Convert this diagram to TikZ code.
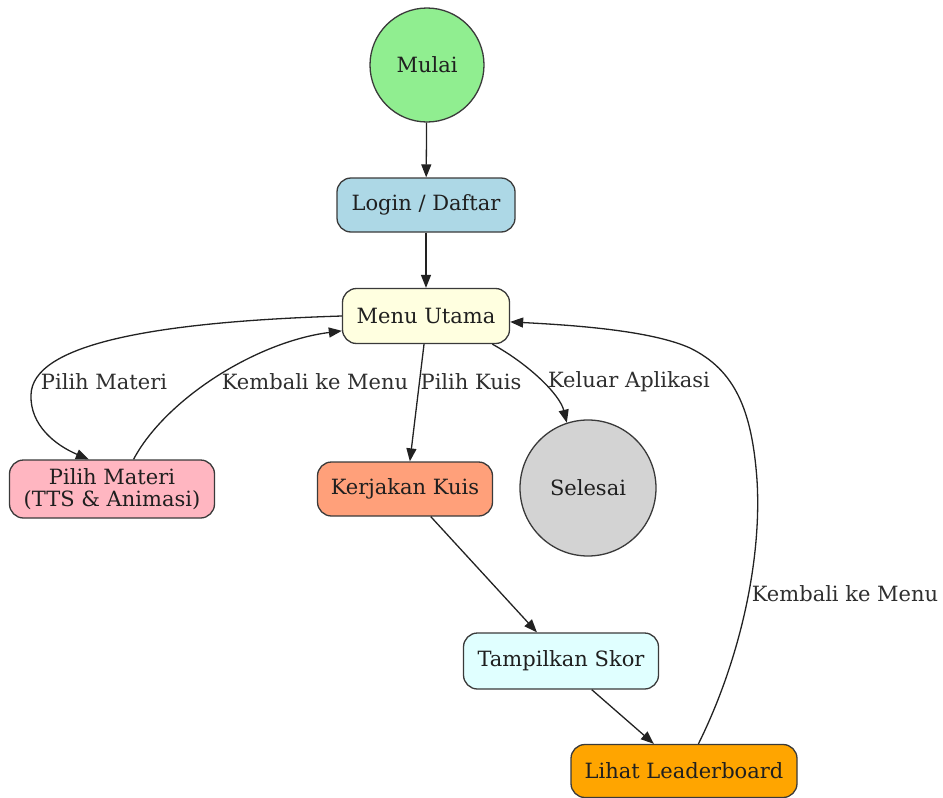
\documentclass[tikz,border=0pt]{standalone}
\usepackage{fontspec}
\setmainfont{DejaVu Serif}
\usetikzlibrary{arrows.meta}
\definecolor{cMulai}{HTML}{90EE90}
\definecolor{cLogin}{HTML}{ADD8E6}
\definecolor{cMenu}{HTML}{FFFFE0}
\definecolor{cMateri}{HTML}{FFB6C1}
\definecolor{cKuis}{HTML}{FFA07A}
\definecolor{cSelesai}{HTML}{D3D3D3}
\definecolor{cSkor}{HTML}{E0FFFF}
\definecolor{cLead}{HTML}{FFA500}
\definecolor{cLine}{HTML}{222222}
\definecolor{cBorder}{HTML}{3A3A3A}
\tikzset{
  base/.style={draw=cBorder, line width=1.3pt, text=black!88, font=\fontsize{21}{22.5}\selectfont, inner sep=0pt, align=center},
  rbox/.style={base, rectangle, rounded corners=14pt},
  cnode/.style={base, circle},
  lbl/.style={text=black!82, font=\fontsize{21}{23}\selectfont, inner sep=0pt},
  edge/.style={draw=cLine, line width=1.3pt, -{Triangle[length=13pt,width=10pt]}},
}
\begin{document}
\begin{tikzpicture}[x=1pt,y=-1pt]
\useasboundingbox (0,0) rectangle (943,798);
% nodes
\node[cnode, fill=cMulai, minimum size=114pt] (mulai) at (427,65) {Mulai};
\node[rbox, fill=cLogin, minimum width=178pt, minimum height=54pt] (login) at (426,205) {Login / Daftar};
\node[rbox, fill=cMenu, minimum width=167pt, minimum height=55pt] (menu) at (426,316) {Menu Utama};
\node[rbox, fill=cMateri, minimum width=205pt, minimum height=58pt] (materi) at (112,489) {Pilih Materi\\(TTS \& Animasi)};
\node[rbox, fill=cKuis, minimum width=175pt, minimum height=54pt] (kuis) at (405,489) {Kerjakan Kuis};
\node[cnode, fill=cSelesai, minimum size=136pt] (selesai) at (588,488) {Selesai};
\node[rbox, fill=cSkor, minimum width=195pt, minimum height=56pt] (skor) at (561,661) {Tampilkan Skor};
\node[rbox, fill=cLead, minimum width=226pt, minimum height=53pt] (lead) at (684,771) {Lihat Leaderboard};
% edges
\draw[edge] (mulai) -- (login);
\draw[edge] (login) -- (menu);
\draw[edge] (menu.west) .. controls (150,322) and (32,345) .. (31,395)
   .. controls (30,425) and (55,445) .. (materi.128);
\draw[edge] (materi.54) .. controls (165,400) and (255,342) .. (menu.190);
\draw[edge] (menu.266) -- (kuis.80);
\draw[edge] (menu.337) .. controls (530,365) and (560,395) .. (selesai.108);
\draw[edge] (kuis.-47) -- (skor.130);
\draw[edge] (skor.-43) -- (lead.138);
\draw[edge] (lead.62) .. controls (740,660) and (762,560) .. (757,480)
   .. controls (752,410) and (735,370) .. (690,348)
   .. controls (650,330) and (570,325) .. (menu.356);
% edge labels
\node[lbl] (l1) at (104,382) {Pilih Materi};
\node[lbl] (l2) at (315,382) {Kembali ke Menu};
\node[lbl] (l3) at (471,382) {Pilih Kuis};
\node[lbl] (l4) at (629,382) {Keluar Aplikasi};
\node[lbl] (l5) at (845,594) {Kembali ke Menu};
\end{tikzpicture}
\end{document}
